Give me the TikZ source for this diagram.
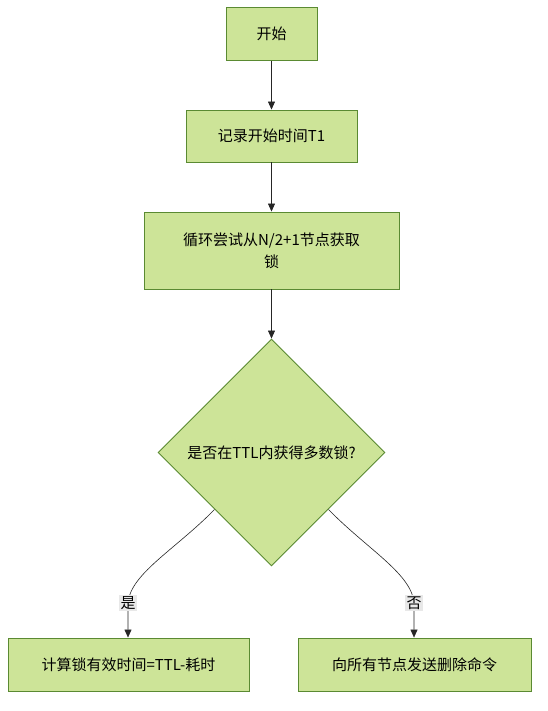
\documentclass[tikz,border=0pt]{standalone}
\usepackage{fontspec}
\setmainfont{Noto Sans CJK SC}
\usetikzlibrary{shapes.geometric,arrows.meta}
\definecolor{nodefill}{HTML}{CDE498}
\definecolor{nodeline}{HTML}{5A8A32}
\definecolor{lblbg}{HTML}{E8E8E8}
\begin{document}
\begin{tikzpicture}[x=1pt,y=-1pt,
  box/.style={draw=nodeline,fill=nodefill,line width=0.9pt,inner sep=0pt,align=center,font=\fontsize{15}{22}\selectfont},
  dia/.style={draw=nodeline,fill=nodefill,line width=0.9pt,diamond,minimum width=227pt,minimum height=227pt,inner sep=0pt,font=\fontsize{15}{18}\selectfont},
  conn/.style={draw=black!85,line width=0.6pt,-{Triangle[length=8pt,width=7pt]}},
  lbl/.style={fill=lblbg,inner sep=1.5pt,font=\fontsize{15}{18}\selectfont}]
\useasboundingbox (0,0) rectangle (547,711);
\node[box,minimum width=91pt,minimum height=53pt] (s) at (271.5,34) {开始};
\node[box,minimum width=171pt,minimum height=52pt] (t1) at (271.5,136) {记录开始时间T1};
\node[box,minimum width=255pt,minimum height=77pt] (loop) at (271.5,250.5) {循环尝试从N/2+1节点获取\\锁};
\node[dia] (d) at (271.5,452.5) {是否在TTL内获得多数锁?};
\node[box,minimum width=241pt,minimum height=53pt] (yes) at (128.5,664.5) {计算锁有效时间=TTL-耗时};
\node[box,minimum width=233pt,minimum height=53pt] (no) at (414.5,664.5) {向所有节点发送删除命令};
\draw[conn] (s) -- (t1);
\draw[conn] (t1) -- (loop);
\draw[conn] (loop) -- (d);
\draw[conn] (d.south west) .. controls (175,550) and (128,575) .. (128,605) -- (yes.north -| 128,0);
\draw[conn] (d.south east) .. controls (368,550) and (414,575) .. (414,605) -- (no.north -| 414,0);
\node[lbl] (ly) at (128,603) {是};
\node[lbl] (ln) at (414,603) {否};
\end{tikzpicture}
\end{document}
